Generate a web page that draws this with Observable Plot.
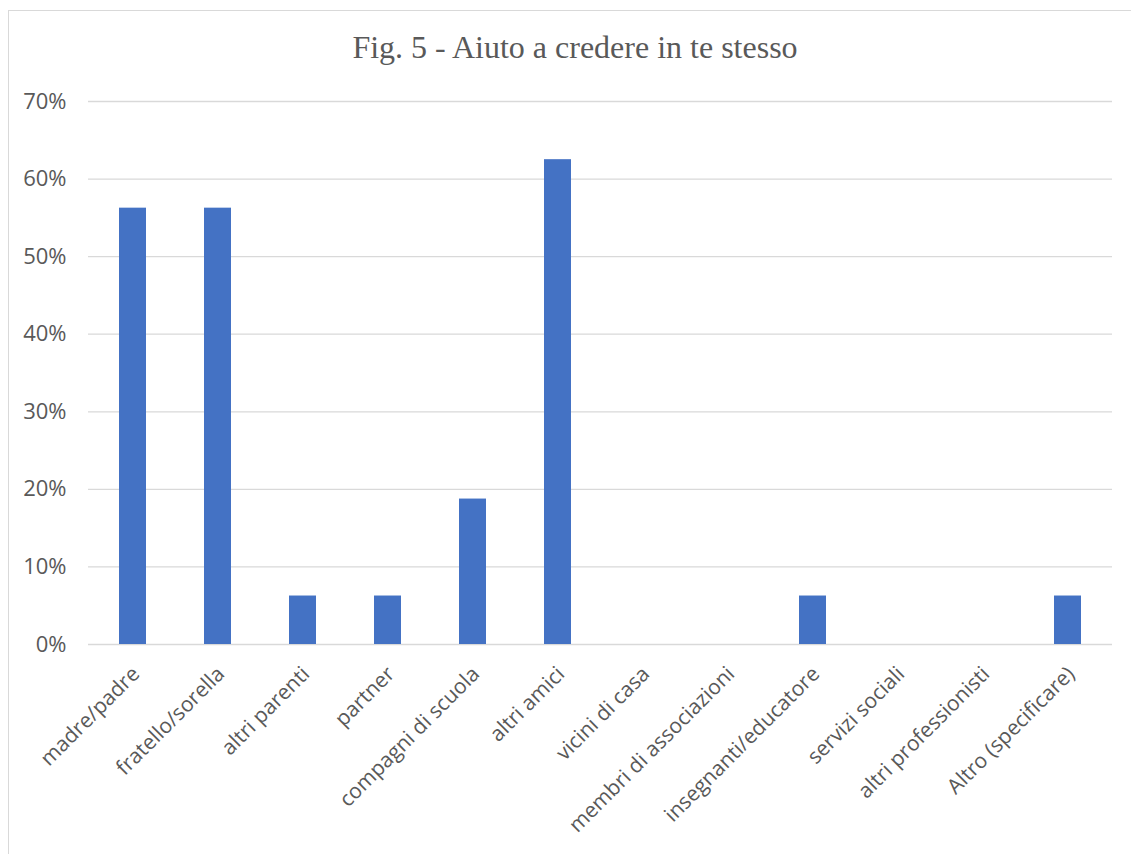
<!DOCTYPE html>
<html>
<head>
<meta charset="utf-8">
<script src="https://cdn.jsdelivr.net/npm/d3@7"></script>
<script src="https://cdn.jsdelivr.net/npm/@observablehq/plot@0.6"></script>
<style>
  html, body { margin: 0; padding: 0; background: #fff; }
  #wrap { position: relative; width: 1131px; height: 854px; overflow: hidden; background: #fff; }
  #frame { position: absolute; left: 8px; top: 10px; width: 1200px; height: 900px; border: 1.5px solid #d9d9d9; box-sizing: border-box; }
  #title { position: absolute; left: 0; top: 30px; width: 1150px; text-align: center;
           font-family: "Liberation Serif", "Times New Roman", serif; font-size: 32px; color: #595959; line-height: 1.1; }
  #chart { position: absolute; left: 0; top: 0; }
</style>
</head>
<body>
<div id="wrap">
  <div id="frame"></div>
  <div id="title">Fig. 5 - Aiuto a credere in te stesso</div>
  <div id="chart"></div>
</div>
<script>
// Who helped respondents believe in themselves (share of respondents)
const categories = [
  "madre/padre",
  "fratello/sorella",
  "altri parenti",
  "partner",
  "compagni di scuola",
  "altri amici",
  "vicini di casa",
  "membri di associazioni",
  "insegnanti/educatore",
  "servizi sociali",
  "altri professionisti",
  "Altro (specificare)"
];
const values = [0.5625, 0.5625, 0.0625, 0.0625, 0.1875, 0.625, 0, 0, 0.0625, 0, 0, 0.0625];
const yTicks = [0, 0.1, 0.2, 0.3, 0.4, 0.5, 0.6, 0.7];

const data = categories.map((c, i) => ({category: c, value: values[i]}));

const labelFont = "'Open Sans', 'DejaVu Sans', sans-serif";

const chart = Plot.plot({
  width: 1131,
  height: 854,
  marginLeft: 88,
  marginRight: 19,
  marginTop: 101,
  marginBottom: 210,
  style: {fontFamily: labelFont, fontSize: "22px", color: "#595959", background: "transparent"},
  x: {domain: categories, paddingInner: 0.68, paddingOuter: 0.34, axis: null},
  y: {domain: [0, 0.7], axis: null},
  marks: [
    Plot.gridY(yTicks, {stroke: "#d9d9d9", strokeOpacity: 1, strokeWidth: 1.3}),
    Plot.barY(data, {x: "category", y: "value", fill: "#4472C4"}),
    Plot.axisY({
      ticks: yTicks,
      tickSize: 0,
      tickPadding: 22,
      tickFormat: d3.format(".0%"),
      fontSize: 22,
      fill: "#595959",
      label: null
    }),
    Plot.axisX({
      tickSize: 0,
      tickPadding: 26,
      tickRotate: -45,
      dx: 3,
      fontSize: 21,
      fill: "#595959",
      label: null
    })
  ]
});

document.getElementById("chart").appendChild(chart);
</script>
</body>
</html>
